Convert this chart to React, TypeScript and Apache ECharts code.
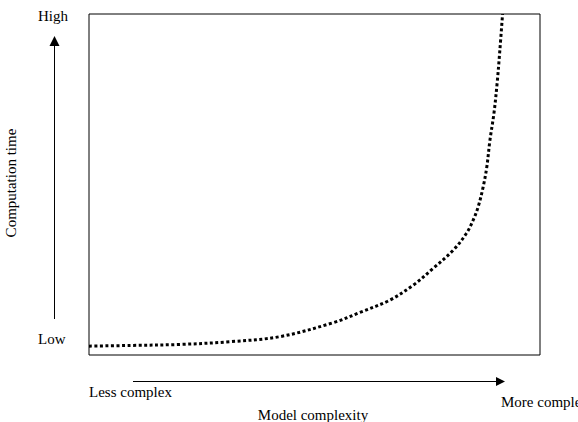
import React, { useEffect, useRef } from "react";
import * as echarts from "echarts";

const complexity = [0, 9.1, 20.2, 31.3, 42.4, 54.2, 60.1, 66.7, 71.9, 76.3, 80.8, 83.7, 85.2, 86.3, 87.4, 88.2, 88.9, 89.8, 90.5, 91.1, 91.7];
const compTime = [2.6, 2.8, 3.1, 3.9, 5.4, 9.5, 12.5, 16.1, 20.5, 25.4, 30.8, 35.7, 39.6, 43.5, 49.3, 55.1, 63.0, 71.0, 79.8, 89.4, 100];
const yLabels = ["High", "Low"];
const xLabels = ["Less complex", "More complex"];
const xTitle = "Model complexity";
const yTitle = "Computation time";

export default function App() {
  const ref = useRef<HTMLDivElement>(null);
  useEffect(() => {
    if (!ref.current) return;
    const chart = echarts.init(ref.current, undefined, { renderer: "svg" });
    const font = "Liberation Serif";
    const txt = (x: number, y: number, text: string, extra: any = {}) => ({
      type: "text",
      x,
      y,
      style: { text, fill: "#000", font: `15px "${font}"`, textVerticalAlign: "middle", ...extra },
    });
    chart.setOption({
      animation: false,
      grid: {
        left: 89,
        top: 14,
        width: 451,
        height: 341,
        show: true,
        borderColor: "#000",
        borderWidth: 1,
        backgroundColor: "#fff",
      },
      xAxis: { type: "value", min: 0, max: 100, show: false },
      yAxis: { type: "value", min: 0, max: 100, show: false },
      series: [
        {
          type: "line",
          data: complexity.map((x, i) => [x, compTime[i]]),
          smooth: 0.35,
          showSymbol: false,
          clip: true,
          lineStyle: { color: "#000", width: 3, type: [3, 2.5], cap: "butt" },
        },
      ],
      graphic: [
        txt(38, 16, yLabels[0]),
        txt(38, 339, yLabels[1]),
        txt(89, 392, xLabels[0]),
        txt(501, 402, xLabels[1]),
        txt(313, 415, xTitle, { textAlign: "center" }),
        {
          type: "text",
          x: 11,
          y: 183,
          rotation: Math.PI / 2,
          style: { text: yTitle, fill: "#000", font: `15px "${font}"`, textAlign: "center", textVerticalAlign: "middle" },
        },
        { type: "line", shape: { x1: 54.5, y1: 319, x2: 54.5, y2: 44 }, style: { stroke: "#000", lineWidth: 1 } },
        { type: "polygon", shape: { points: [[54.5, 36], [49.5, 46], [59.5, 46]] }, style: { fill: "#000" } },
        { type: "line", shape: { x1: 133, y1: 381.5, x2: 497, y2: 381.5 }, style: { stroke: "#000", lineWidth: 1 } },
        { type: "polygon", shape: { points: [[505, 381.5], [496, 377], [496, 386]] }, style: { fill: "#000" } },
      ],
    });
    return () => chart.dispose();
  }, []);
  return <div ref={ref} style={{ position: "fixed", left: 0, top: 0, width: 578, height: 422, background: "#fff" }} />;
}
